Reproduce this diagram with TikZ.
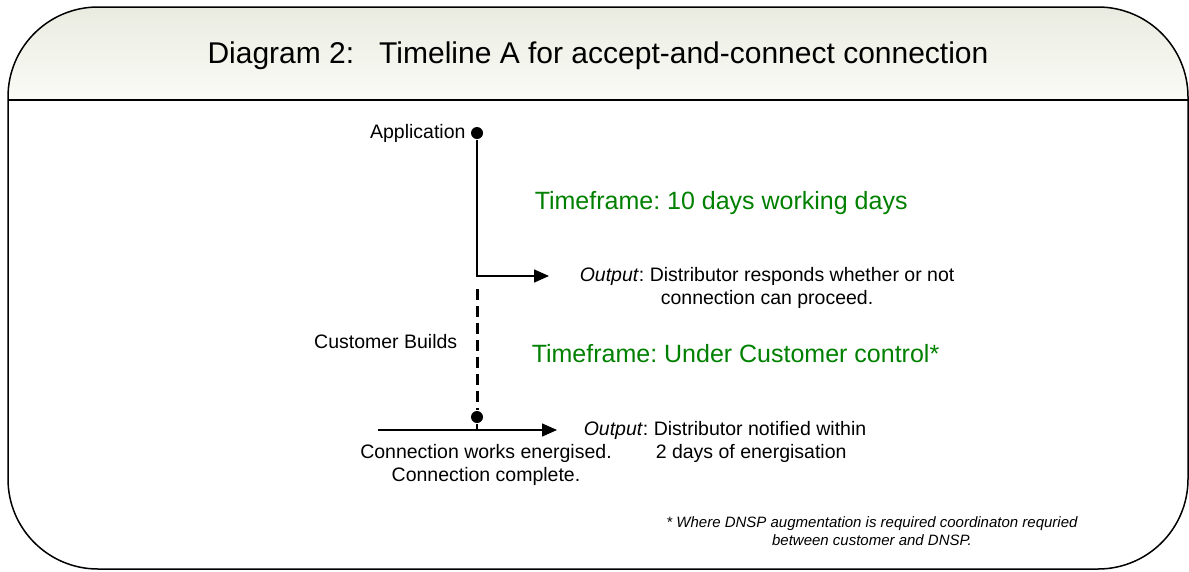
\documentclass[tikz,border=0pt]{standalone}
\usepackage{fontspec}
\setmainfont{Liberation Sans}
\usetikzlibrary{arrows.meta,positioning}
\definecolor{tfgreen}{RGB}{0,128,0}
\definecolor{headtop}{RGB}{234,235,224}
\definecolor{headbot}{RGB}{250,251,246}
\frenchspacing

\begin{document}
\begin{tikzpicture}[x=1pt,y=-1pt,>={Triangle[length=15pt,width=13pt]},line width=1.5pt,
  lbl/.style={inner sep=0pt,font=\fontsize{19.5}{23}\selectfont},
  tf/.style={inner sep=0pt,text=tfgreen,font=\fontsize{25}{30}\selectfont},
  dot/.style={circle,fill,inner sep=0pt,minimum size=12pt}]
\useasboundingbox (0,0) rectangle (1189,571);
% frame and header
\shade[top color=headtop,bottom color=headbot] (8,100) -- (8,97) .. controls (8,47.3) and (48.3,7) .. (98,7)
  -- (1098,7) .. controls (1147.7,7) and (1188,47.3) .. (1188,97) -- (1188,100) -- cycle;
\draw (8,97) .. controls (8,47.3) and (48.3,7) .. (98,7) -- (1098,7) .. controls (1147.7,7) and (1188,47.3) .. (1188,97)
  -- (1188,479) .. controls (1188,528.7) and (1147.7,569) .. (1098,569) -- (98,569) .. controls (48.3,569) and (8,528.7) .. (8,479) -- cycle;
\draw (8,100) -- (1188,100);
\node[inner sep=0pt,font=\fontsize{30}{36}\selectfont] (title) at (598,56) {Diagram 2:\ \ \ Timeline A for accept-and-connect connection};
% timeline
\node[dot] (app) at (477,133) {};
\node[lbl,left=4pt of app] (applbl) {Application};
\coordinate (out1) at (549,276);
\draw[->] (app) |- (out1);
\node[lbl,align=center,right=30pt of out1,yshift=-11.5pt] (resp) {\textit{Output}: Distributor responds whether or not\\connection can proceed.};
\node[tf,anchor=west] (tf1) at (534,203) {Timeframe: 10 days working days};
\coordinate (dtop) at (477,289);
\node[dot] (done) at (477,417) {};
\draw[dash pattern=on 11pt off 6pt,line width=3pt] (dtop) -- (done);
\node[lbl,anchor=east] (build) at (458,342) {Customer Builds};
\node[tf,anchor=west] (tf2) at (531,354) {Timeframe: Under Customer control*};
\coordinate (bl) at (378,430);
\coordinate (br) at (557,430);
\draw[->] (bl) -- (br);
\draw (done) -- (done |- bl);
\node[lbl,align=left,right=26pt of br,yshift=-11.5pt] (notif) {\textit{Output}: Distributor notified within\\\hspace*{72pt}2 days of energisation};
\node[lbl,align=center] (ener) at (486,465) {Connection works energised.\\Connection complete.};
\node[inner sep=0pt,align=center,font=\fontsize{15}{18}\selectfont\itshape] (note) at (872,531) {* Where DNSP augmentation is required coordinaton requried\\between customer and DNSP.};
\end{tikzpicture}
\end{document}
